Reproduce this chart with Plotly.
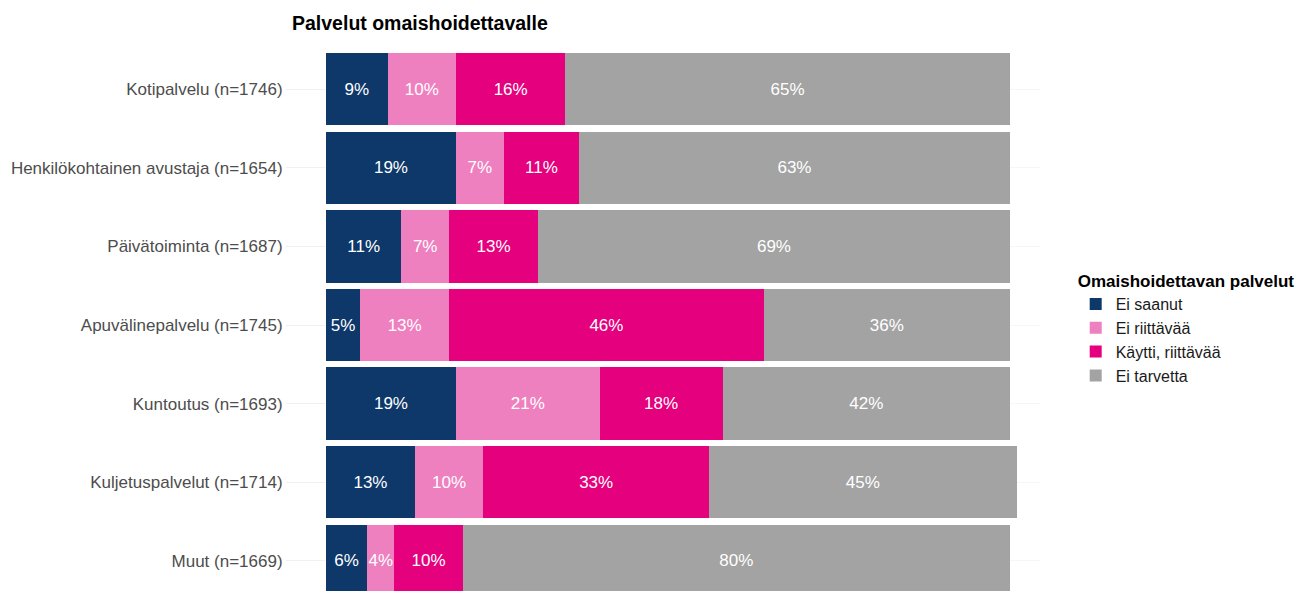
import plotly.graph_objects as go

categories = [
    "Kotipalvelu (n=1746)",
    "Henkilökohtainen avustaja (n=1654)",
    "Päivätoiminta (n=1687)",
    "Apuvälinepalvelu (n=1745)",
    "Kuntoutus (n=1693)",
    "Kuljetuspalvelut (n=1714)",
    "Muut (n=1669)",
]
series_names = ["Ei saanut", "Ei riittävää", "Käytti, riittävää", "Ei tarvetta"]
ei_saanut = [9, 19, 11, 5, 19, 13, 6]
ei_riittavaa = [10, 7, 7, 13, 21, 10, 4]
kaytti_riittavaa = [16, 11, 13, 46, 18, 33, 10]
ei_tarvetta = [65, 63, 69, 36, 42, 45, 80]
colors = ["#0d3869", "#ef80c0", "#e5007d", "#a3a3a3"]

values = [ei_saanut, ei_riittavaa, kaytti_riittavaa, ei_tarvetta]
FONT = "Liberation Sans, Arial"

fig = go.Figure()
for name, vals, col in zip(series_names, values, colors):
    fig.add_trace(go.Bar(
        y=categories, x=vals, name=name, orientation="h",
        marker=dict(color=col, line=dict(width=0)),
        text=[f"{v}%" for v in vals],
        textposition="inside", insidetextanchor="middle", textangle=0,
        textfont=dict(color="white", size=17, family=FONT),
        hoverinfo="skip",
    ))

# page is rendered with an 8px body margin, so the figure is shifted by 8px
OFF = 8
W, H = 1314, 591
fig.update_layout(
    barmode="stack",
    bargap=0.08,
    width=W, height=H,
    margin=dict(l=326 - OFF, r=W - (1040 - OFF), t=44 - OFF, b=OFF),
    paper_bgcolor="white", plot_bgcolor="white",
    font=dict(family=FONT, size=17, color="#4d4d4d"),
    uniformtext=dict(minsize=17, mode="show"),
    title=dict(text="<b>Palvelut omaishoidettavalle</b>", x=(292 - OFF) / W, xanchor="left",
               xref="container", y=1 - (23 - OFF) / H, yanchor="middle", yref="container",
               font=dict(size=19.5, color="black", family=FONT)),
    legend=dict(
        title=dict(text="<b>Omaishoidettavan palvelut</b>", font=dict(size=17, color="black")),
        x=1.05, xanchor="left", y=0.596, yanchor="top",
        font=dict(size=16, color="#1a1a1a"),
        traceorder="normal", tracegroupgap=0, itemsizing="constant",
    ),
    xaxis=dict(range=[0, 104.4], showgrid=False, showticklabels=False, zeroline=False,
               showline=False, ticks="", automargin=False),
    yaxis=dict(categoryorder="array", categoryarray=categories,
               range=[6.382, -0.573], showgrid=True, gridcolor="#f6f6f6",
               ticks="outside", ticklen=39, tickcolor="#f0f0f0", automargin=False,
               tickfont=dict(size=17, color="#4d4d4d"), showline=False, zeroline=False),
)

fig.write_html("out.html")
